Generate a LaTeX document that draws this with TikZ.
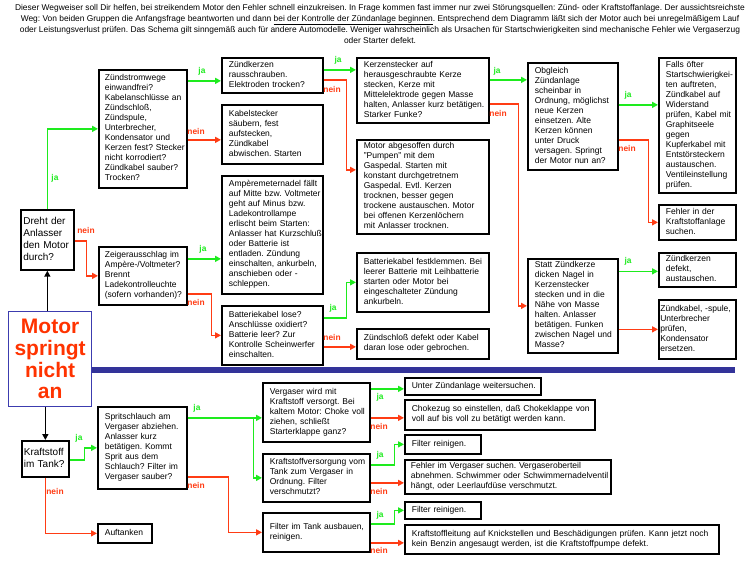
\documentclass[tikz,border=0pt]{standalone}
\usepackage{fontspec}
\setmainfont{Liberation Sans}
\usetikzlibrary{arrows.meta,calc}
\definecolor{jag}{RGB}{30,235,30}
\definecolor{neinr}{RGB}{255,60,20}
\definecolor{barb}{RGB}{51,51,153}
\definecolor{mred}{RGB}{255,51,0}
\definecolor{mblue}{RGB}{60,60,175}
\newcommand\lns[1]{\begin{tabular}{@{}l@{}}#1\end{tabular}}
\frenchspacing
\begin{document}
\frenchspacing
\begin{tikzpicture}[x=1pt,y=-1pt,
 bx/.style={draw=black, line width=1.7pt, rectangle, anchor=north west, align=left, inner xsep=7pt, inner ysep=2pt, font=\fontsize{8.5}{10}\selectfont},
 big/.style={bx, inner xsep=2.5pt, font=\fontsize{10}{12}\selectfont},
 ja/.style={draw=jag, line width=1.5pt, -{Triangle[length=6pt,width=6pt]}},
 nein/.style={draw=neinr, line width=1.5pt, -{Triangle[length=6pt,width=6pt]}},
 blk/.style={draw=black, line width=1.5pt, -{Triangle[length=6pt,width=6pt]}},
 jal/.style={text=jag, font=\bfseries\fontsize{8.4}{10}\selectfont, inner sep=0pt},
 neinl/.style={text=neinr, font=\bfseries\fontsize{8.4}{10}\selectfont, inner sep=0pt},
]
\useasboundingbox[fill=white] (0,0) rectangle (750,563);

\node[font=\fontsize{8.4}{11}\selectfont, align=center, inner sep=0pt] (intro) at (380,23.5) {Dieser Wegweiser soll Dir helfen, bei streikendem Motor den Fehler schnell einzukreisen. In Frage kommen fast immer nur zwei Störungsquellen: Zünd- oder Kraftstoffanlage. Der aussichtsreichste\\Weg: Von beiden Gruppen die Anfangsfrage beantworten und dann \underline{bei der Kontrolle der Zündanlage beginnen}. Entsprechend dem Diagramm läßt sich der Motor auch bei unregelmäßigem Lauf\\oder Leistungsverlust prüfen. Das Schema gilt sinngemäß auch für andere Automodelle. Weniger wahrscheinlich als Ursachen für Startschwierigkeiten sind mechanische Fehler wie Vergaserzug\\oder Starter defekt.};

% blue separator
\fill[barb] (91,367) rectangle (735,373);

% ---- Zündanlage part
\node[big, minimum width=53, minimum height=60, text width=48] (dr) at (20,209) {\lns{Dreht der\\Anlasser\\den Motor\\durch?}};
\node[bx, inner xsep=6pt, minimum width=88, minimum height=118, text width=76] (zs) at (98,69) {\lns{Zündstromwege\\einwandfrei?\\Kabelanschlüsse an\\Zündschloß,\\Zündspule,\\Unterbrecher,\\Kondensator und\\Kerzen fest? Stecker\\nicht korrodiert?\\Zündkabel sauber?\\Trocken?}};
\node[bx, inner xsep=6pt, minimum width=88, minimum height=58, text width=76] (zg) at (98,246) {\lns{Zeigerausschlag im\\Ampère-/Voltmeter?\\Brennt\\Ladekontrolleuchte\\(sofern vorhanden)?}};
\node[draw=mblue, line width=1.3pt, minimum width=83, minimum height=95, anchor=north west, align=center, text=mred, font=\bfseries\fontsize{21}{21.7}\selectfont, inner sep=0pt] (ms) at (8,311) {Motor\\springt\\nicht\\an};

\node[bx, minimum width=101, minimum height=35, text width=87] (zk) at (221,57) {\lns{Zündkerzen\\rausschrauben.\\Elektroden trocken?}};
\node[bx, minimum width=101, minimum height=59, text width=87] (kb) at (221,104) {\lns{Kabelstecker\\säubern, fest\\aufstecken,\\Zündkabel\\abwischen. Starten}};
\node[bx, minimum width=101, minimum height=118, text width=87] (am) at (221,175) {\lns{Ampèremeternadel fällt\\auf Mitte bzw. Voltmeter\\geht auf Minus bzw.\\Ladekontrollampe\\erlischt beim Starten:\\Anlasser hat Kurzschluß\\oder Batterie ist\\entladen. Zündung\\einschalten, ankurbeln,\\anschieben oder -\\schleppen.}};
\node[bx, minimum width=101, minimum height=59, text width=87] (bl) at (221,305) {\lns{Batteriekabel lose?\\Anschlüsse oxidiert?\\Batterie leer? Zur\\Kontrolle Scheinwerfer\\einschalten.}};

\node[bx, minimum width=132, minimum height=65, text width=118] (ks) at (356,57) {\lns{Kerzenstecker auf\\herausgeschraubte Kerze\\stecken, Kerze mit\\Mittelelektrode gegen Masse\\halten, Anlasser kurz betätigen.\\Starker Funke?}};
\node[bx, minimum width=132, minimum height=94, text width=118] (ma) at (356,139) {\lns{Motor abgesoffen durch\\"Pumpen" mit dem\\Gaspedal. Starten mit\\konstant durchgetretnem\\Gaspedal. Evtl. Kerzen\\trocknen, besser gegen\\trockene austauschen. Motor\\bei offenen Kerzenlöchern\\mit Anlasser trocknen.}};
\node[bx, minimum width=132, minimum height=59, text width=118] (bf) at (356,252) {\lns{Batteriekabel festklemmen. Bei\\leerer Batterie mit Leihbatterie\\starten oder Motor bei\\eingeschalteter Zündung\\ankurbeln.}};
\node[bx, minimum width=132, minimum height=30, text width=118] (zl) at (356,328) {\lns{Zündschloß defekt oder Kabel\\daran lose oder gebrochen.}};

\node[bx, minimum width=90, minimum height=107, text width=76] (ob) at (527,62) {\lns{Obgleich\\Zündanlage\\scheinbar in\\Ordnung, möglichst\\neue Kerzen\\einsetzen. Alte\\Kerzen können\\unter Druck\\versagen. Springt\\der Motor nun an?}};
\node[bx, minimum width=90, minimum height=94, text width=76] (sz) at (527,258) {\lns{Statt Zündkerze\\dicken Nagel in\\Kerzenstecker\\stecken und in die\\Nähe von Masse\\halten. Anlasser\\betätigen. Funken\\zwischen Nagel und\\Masse?}};

\node[bx, minimum width=77, minimum height=135, text width=63] (fo) at (658,57) {\lns{Falls öfter\\Startschwierigkei-\\ten auftreten,\\Zündkabel auf\\Widerstand\\prüfen, Kabel mit\\Graphitseele\\gegen\\Kupferkabel mit\\Entstörsteckern\\austauschen.\\Ventileinstellung\\prüfen.}};
\node[bx, minimum width=77, minimum height=35, text width=63] (fk) at (658,204) {\lns{Fehler in der\\Kraftstoffanlage\\suchen.}};
\node[bx, minimum width=77, minimum height=33, text width=63] (zd) at (658,252) {\lns{Zündkerzen\\defekt,\\austauschen.}};
\node[bx, inner xsep=1.5pt, minimum width=77, minimum height=59, text width=74] (zkb) at (658,299) {\lns{Zündkabel, -spule,\\Unterbrecher\\prüfen,\\Kondensator\\ersetzen.}};

% ---- Kraftstoff part
\node[big, inner xsep=2pt, minimum width=47, minimum height=36, text width=43] (kt) at (21,440) {\lns{Kraftstoff\\im Tank?}};
\node[bx, minimum width=89, minimum height=82, text width=75] (sp) at (97,406) {\lns{Spritschlauch am\\Vergaser abziehen.\\Anlasser kurz\\betätigen. Kommt\\Sprit aus dem\\Schlauch? Filter im\\Vergaser sauber?}};
\node[bx, minimum width=54, minimum height=19, text width=40] (au) at (97,523) {\lns{Auftanken}};

\node[bx, minimum width=107, minimum height=59, text width=93] (vg) at (262,382) {\lns{Vergaser wird mit\\Kraftstoff versorgt. Bei\\kaltem Motor: Choke voll\\ziehen, schließt\\Starterklappe ganz?}};
\node[bx, minimum width=107, minimum height=48, text width=93] (kv) at (262,453) {\lns{Kraftstoffversorgung vom\\Tank zum Vergaser in\\Ordnung. Filter\\verschmutzt?}};
\node[bx, minimum width=107, minimum height=39, text width=93] (ft) at (262,512) {\lns{Filter im Tank ausbauen,\\reinigen.}};

\node[bx, minimum width=136, minimum height=17, text width=122] (uz) at (404,377) {\lns{Unter Zündanlage weitersuchen.}};
\node[bx, minimum width=190, minimum height=30, text width=176] (ch) at (404,399) {\lns{Chokezug so einstellen, daß Chokeklappe von\\voll auf bis voll zu betätigt werden kann.}};
\node[bx, minimum width=76, minimum height=19, text width=62] (fr1) at (404,434) {\lns{Filter reinigen.}};
\node[bx, inner xsep=6pt, minimum width=206, minimum height=34, text width=194] (fv) at (404,459) {\lns{Fehler im Vergaser suchen. Vergaseroberteil\\abnehmen. Schwimmer oder Schwimmernadelventil\\hängt, oder Leerlaufdüse verschmutzt.}};
\node[bx, minimum width=76, minimum height=17, text width=62] (fr2) at (404,501) {\lns{Filter reinigen.}};
\node[bx, minimum width=314, minimum height=29, text width=300] (kl) at (404,524) {\lns{Kraftstoffleitung auf Knickstellen und Beschädigungen prüfen. Kann jetzt noch\\kein Benzin angesaugt werden, ist die Kraftstoffpumpe defekt.}};

% ---- connectors: Zündanlage
\draw[ja] (dr.north) |- (zs.west);
\draw[nein] ([yshift=-1]dr.east) -- ++(12,0) |- (zg.west);
\coordinate (p3) at ([yshift=-5.5]zk.west);
\draw[ja] (zs.east |- p3) -- (p3);
\coordinate (p4) at ([yshift=-5.5]kb.west);
\draw[nein] (zs.east |- p4) -- (p4);
\coordinate (p5) at ([yshift=20.5]ks.west);
\draw[ja] (zk.east |- p5) -- (p5);
\draw[nein] ([yshift=-4.5]zk.east) -- ++(23,0) |- ([yshift=17]ma.west);
\coordinate (p7) at ([yshift=36.5]ob.west);
\draw[ja] (ks.east |- p7) -- (p7);
\draw[nein] ([yshift=-13.5]ks.east) -- ++(29,0) |- (sz.west);
\coordinate (p9) at ([yshift=20.5]fo.west);
\draw[ja] (ob.east |- p9) -- (p9);
\draw[nein] ([yshift=-23.5]ob.east) -- ++(30,0) |- (fk.west);
\coordinate (p11) at ([yshift=-24]am.west);
\draw[ja] (zg.east |- p11) -- (p11);
\draw[nein] ([yshift=-18]zg.east) -- ++(24,0) |- (bl.west);
\draw[ja] ([yshift=17.5]bl.east) -- ++(23,0) |- (bf.west);
\coordinate (p14) at ([yshift=-3]zl.west);
\draw[nein] (bl.east |- p14) -- (p14);
\coordinate (p15) at ([yshift=-1.5]zd.west);
\draw[ja] (sz.east |- p15) -- (p15);
\draw[nein] (sz.east |- zkb.west) -- (zkb.west);

\draw[blk] (ms.north -| dr.south) -- (dr.south);
\draw[blk] (ms.south -| kt.north) -- (kt.north);

% ---- connectors: Kraftstoff
\draw[ja] ([yshift=-1]kt.east) -- ++(15,0) |- (sp.west);
\draw[nein] (kt.south) |- (au.west);
\coordinate (p19) at ([yshift=-5.5]vg.west);
\coordinate (j19) at ($(sp.east |- p19)+(66,0)$);
\draw[ja] (sp.east |- p19) -- (p19);
\draw[ja] (j19) |- (kv.west);
\draw[nein] ([yshift=-29]sp.east) -- ++(41,0) |- (ft.west);
\coordinate (p21) at ([yshift=-2.5]uz.west);
\draw[ja] (vg.east |- p21) -- (p21);
\coordinate (p22) at ([yshift=-3]ch.west);
\draw[nein] (vg.east |- p22) -- (p22);
\draw[ja] ([yshift=13]kv.east) -- ++(24,0) |- (fr1.west);
\coordinate (p24) at ([yshift=-6]fv.west);
\draw[nein] (kv.east |- p24) -- (p24);
\draw[ja] ([yshift=8.5]ft.east) -- ++(24,0) |- (fr2.west);
\coordinate (p26) at ([yshift=-3.5]kl.west);
\draw[nein] (ft.east |- p26) -- (p26);

% ---- labels
\node[jal] (l1) at (55,178) {ja};
\node[neinl] (l2) at (86,230) {nein};
\node[jal] (l3) at (202,71) {ja};
\node[neinl] (l4) at (196,131) {nein};
\node[jal] (l5) at (338,60) {ja};
\node[neinl] (l6) at (332,89) {nein};
\node[jal] (l7) at (497,71) {ja};
\node[neinl] (l8) at (498,113) {nein};
\node[jal] (l9) at (628,95) {ja};
\node[neinl] (l10) at (627,148) {nein};
\node[jal] (l11) at (203,249) {ja};
\node[neinl] (l12) at (196,302) {nein};
\node[jal] (l13) at (333,308) {ja};
\node[neinl] (l14) at (332,337) {nein};
\node[jal] (l15) at (628,261) {ja};
\node[jal] (l16) at (79,438) {ja};
\node[neinl] (l17) at (55,491) {nein};
\node[jal] (l18) at (197,408) {ja};
\node[neinl] (l19) at (196,485) {nein};
\node[jal] (l20) at (380,397) {ja};
\node[neinl] (l21) at (379,426) {nein};
\node[jal] (l22) at (380,455) {ja};
\node[neinl] (l23) at (379,491) {nein};
\node[jal] (l24) at (380,515) {ja};
\node[neinl] (l25) at (379,550) {nein};
\end{tikzpicture}
\end{document}
